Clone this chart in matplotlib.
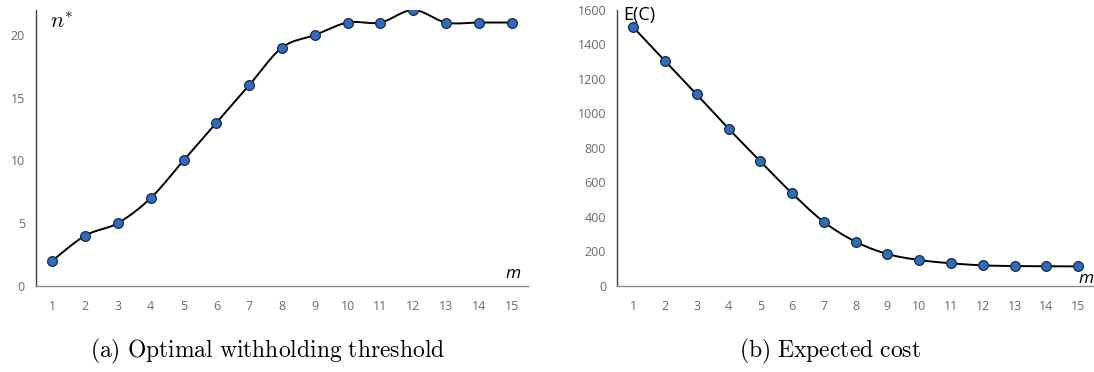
import numpy as np
import matplotlib
matplotlib.use("Agg")
import matplotlib.pyplot as plt

plt.rcParams['mathtext.fontset'] = 'cm'

m_values = list(range(1, 16))
n_star = [2, 4, 5, 7, 10, 13, 16, 19, 20, 21, 21, 22, 21, 21, 21]
expected_cost = [1500, 1305, 1110, 912, 722, 536, 370, 255, 184, 149, 130, 118, 114, 113, 112]
tick_labels = [str(v) for v in m_values]


def smooth(x, y, steps=20):
    """Excel-like smoothed line (Catmull-Rom Bezier) through data points."""
    x = np.asarray(x, float)
    y = np.asarray(y, float)
    px, py = [], []
    n = len(x)
    for i in range(n - 1):
        x0, y0 = (x[i - 1], y[i - 1]) if i > 0 else (x[i], y[i])
        x3, y3 = (x[i + 2], y[i + 2]) if i + 2 < n else (x[i + 1], y[i + 1])
        x1, y1, x2, y2 = x[i], y[i], x[i + 1], y[i + 1]
        c1x, c1y = x1 + (x2 - x0) / 6, y1 + (y2 - y0) / 6
        c2x, c2y = x2 - (x3 - x1) / 6, y2 - (y3 - y1) / 6
        t = np.linspace(0, 1, steps, endpoint=(i == n - 2))
        bx = (1 - t) ** 3 * x1 + 3 * (1 - t) ** 2 * t * c1x + 3 * (1 - t) * t ** 2 * c2x + t ** 3 * x2
        by = (1 - t) ** 3 * y1 + 3 * (1 - t) ** 2 * t * c1y + 3 * (1 - t) * t ** 2 * c2y + t ** 3 * y2
        px.extend(bx)
        py.extend(by)
    return np.array(px), np.array(py)


W, H = 1094, 372
fig = plt.figure(figsize=(W / 100, H / 100), dpi=100)

ax1 = fig.add_axes([36 / W, 86.3 / H, (528 - 36) / W, (285.7 - 10) / H])
ax2 = fig.add_axes([617.3 / W, 86.3 / H, (1094 - 617.3) / W, (285.7 - 10) / H])

marker_kw = dict(marker='o', markersize=7, markerfacecolor='#2F6CC0',
                 markeredgecolor='#1a2a40', markeredgewidth=0.9, linestyle='none', zorder=3)

for ax, y, ylim, yticks in [(ax1, n_star, 22, [0, 5, 10, 15, 20]),
                            (ax2, expected_cost, 1600, list(range(0, 1601, 200)))]:
    sx, sy = smooth(m_values, y)
    ax.plot(sx, sy, color='black', lw=1.4, zorder=2)
    ax.plot(m_values, y, **marker_kw)
    ax.set_xlim(0.5, 15.5)
    ax.set_ylim(0, ylim)
    ax.set_xticks(m_values)
    ax.set_xticklabels(tick_labels)
    ax.set_yticks(yticks)
    ax.tick_params(length=0, labelsize=9, colors='#6b6b6b')
    ax.tick_params(axis='x', pad=10)
    ax.tick_params(axis='y', pad=8)
    for s in ['top', 'right']:
        ax.spines[s].set_visible(False)
    ax.spines['left'].set_color('#404040')
    ax.spines['left'].set_linewidth(1.0)
    ax.spines['bottom'].set_color('#8c8c8c')
    ax.spines['bottom'].set_linewidth(1.0)
    ax.patch.set_alpha(0)
    for lab in ax.get_xticklabels() + ax.get_yticklabels():
        lab.set_family('Open Sans')

ax1.text(0.028, 0.995, r'$n^{*}$', transform=ax1.transAxes, fontsize=16,
         ha='left', va='top')
ax1.text(0.985, 0.015, 'm', transform=ax1.transAxes, fontsize=12.5, style='italic',
         family='Open Sans', ha='right', va='bottom')
ax2.text(0.012, 1.015, 'E(C)', transform=ax2.transAxes, fontsize=13,
         family='Open Sans', ha='left', va='top')
ax2.text(0.999, -0.005, 'm', transform=ax2.transAxes, fontsize=12.5, style='italic',
         family='Open Sans', ha='right', va='bottom', clip_on=False)

fig.text(268 / W, 1 - 351 / H, r'$\mathrm{(a)\ Optimal\ withholding\ threshold}$',
         fontsize=17, ha='center', va='center')
fig.text(830 / W, 1 - 351 / H, r'$\mathrm{(b)\ Expected\ cost}$',
         fontsize=17, ha='center', va='center')

fig.savefig('out.png', dpi=100)
